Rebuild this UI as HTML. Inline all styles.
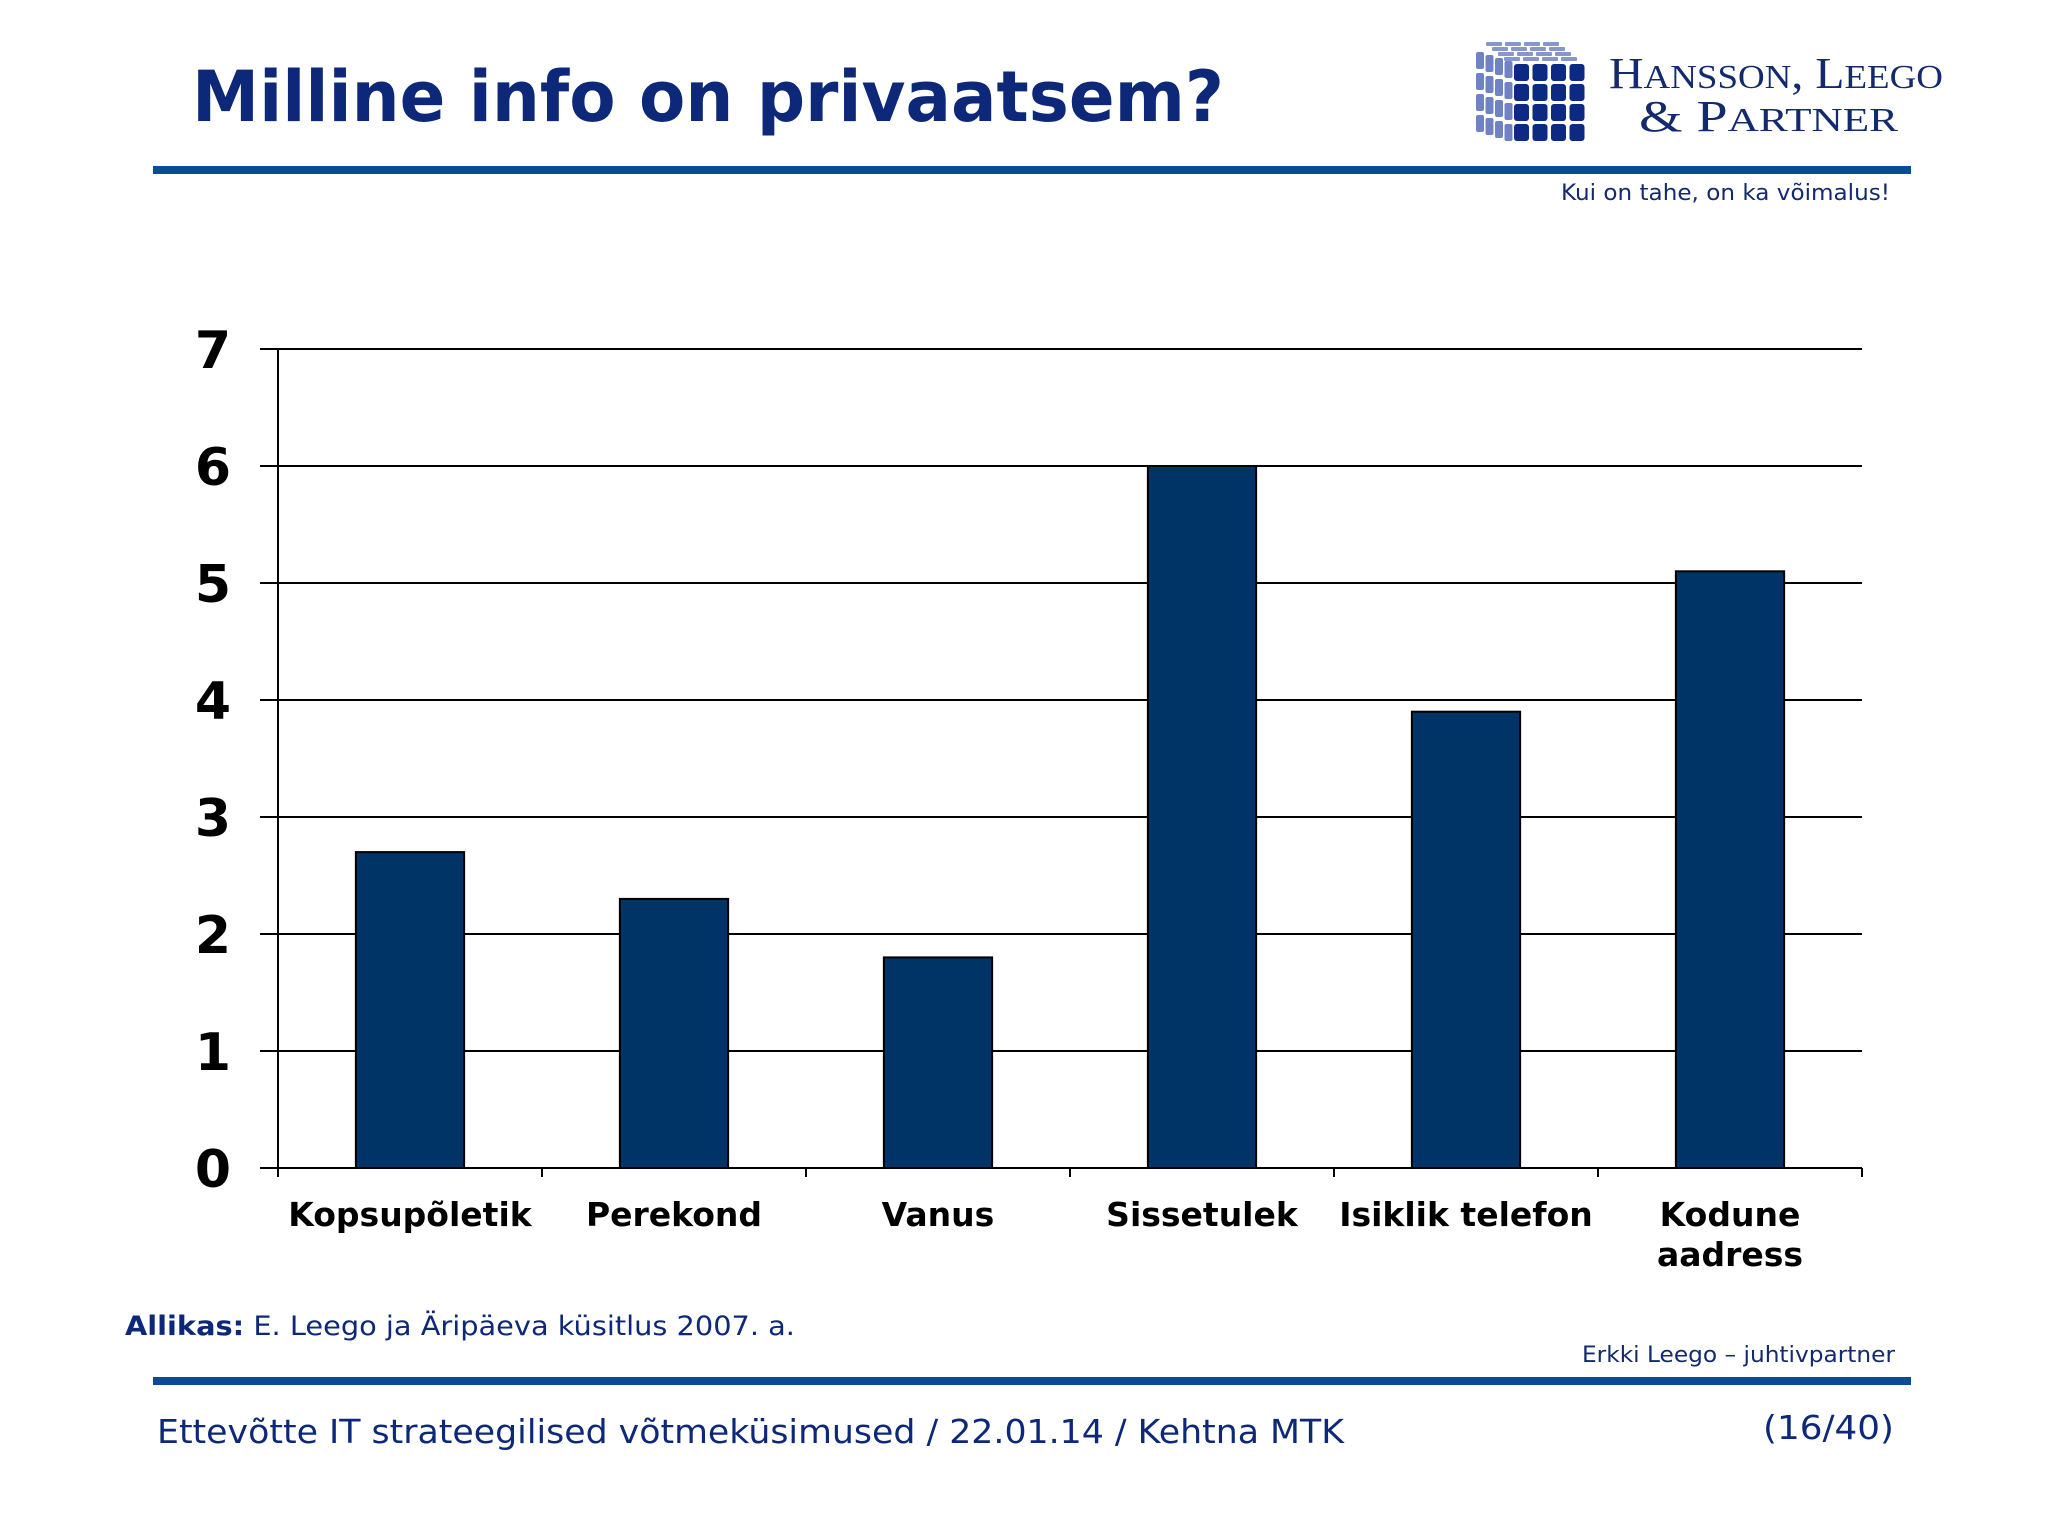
<!DOCTYPE html>
<html><head><meta charset="utf-8"><style>
html,body{margin:0;padding:0;background:#fff;}
svg{display:block;}
</style></head><body>
<svg id="chart" width="2048" height="1536" viewBox="0 0 2048 1536" xmlns="http://www.w3.org/2000/svg">
<text x="192" y="121" font-family="'DejaVu Sans',sans-serif" font-weight="bold" font-size="70" fill="#0d2878" textLength="1032" lengthAdjust="spacingAndGlyphs">Milline info on privaatsem?</text>
<g>
<g id="cube"></g>
<text x="1609" y="88" font-family="'Liberation Serif',serif" font-size="44" fill="#132a6e" textLength="334" lengthAdjust="spacingAndGlyphs">H<tspan font-size="34">ANSSON</tspan>, L<tspan font-size="34">EEGO</tspan></text>
<text x="1639" y="131" font-family="'Liberation Serif',serif" font-size="44" fill="#132a6e" textLength="259" lengthAdjust="spacingAndGlyphs">&amp; P<tspan font-size="34">ARTNER</tspan></text>
</g>
<rect x="153" y="166" width="1758" height="8" fill="#0b4a94"/>
<text x="1561" y="200" font-family="'DejaVu Sans',sans-serif" font-size="22" fill="#132a6e" textLength="329" lengthAdjust="spacingAndGlyphs">Kui on tahe, on ka võimalus!</text>
<g id="plot"></g>
<text x="125" y="1335" font-family="'DejaVu Sans',sans-serif" font-size="27" fill="#0d2878" textLength="670" lengthAdjust="spacingAndGlyphs"><tspan font-weight="bold">Allikas:</tspan> E. Leego ja Äripäeva küsitlus 2007. a.</text>
<text x="1582" y="1362" font-family="'DejaVu Sans',sans-serif" font-size="22" fill="#132a6e" textLength="313" lengthAdjust="spacingAndGlyphs">Erkki Leego – juhtivpartner</text>
<rect x="153" y="1377" width="1758" height="8" fill="#0b4a94"/>
<text x="157" y="1443" font-family="'DejaVu Sans',sans-serif" font-size="33" fill="#0d2878" textLength="1187" lengthAdjust="spacingAndGlyphs">Ettevõtte IT strateegilised võtmeküsimused / 22.01.14 / Kehtna MTK</text>
<text x="1763" y="1439" font-family="'DejaVu Sans',sans-serif" font-size="33" fill="#0d2878" textLength="131" lengthAdjust="spacingAndGlyphs">(16/40)</text>
</svg>
<script>
const categories = [["Kopsupõletik"],["Perekond"],["Vanus"],["Sissetulek"],["Isiklik telefon"],["Kodune","aadress"]];
const values = [2.7, 2.3, 1.8, 6.0, 3.9, 5.1];
const yTicks = [0,1,2,3,4,5,6,7];

const NS = "http://www.w3.org/2000/svg";
const plot = document.getElementById('plot');
const X0 = 278, X1 = 1862, Y0 = 1168, Y7 = 349, YMAX = 7;
const y = v => Y0 - (v / YMAX) * (Y0 - Y7);
const bw = (X1 - X0) / categories.length;
const x = i => X0 + bw * i;
function mk(tag, attrs, parent) {
  const e = document.createElementNS(NS, tag);
  for (const k in attrs) e.setAttribute(k, attrs[k]);
  (parent || plot).appendChild(e);
  return e;
}
yTicks.forEach(t => {
  const g = mk('line', {x1: 260, x2: X1, y1: y(t), y2: y(t), stroke: '#000', 'stroke-width': 2});
  
  
  const lb = mk('text', {x: 213, y: y(t) + 19, 'text-anchor': 'middle', 'font-family': "'DejaVu Sans',sans-serif", 'font-weight': 'bold', 'font-size': 52, fill: '#000'});
  lb.textContent = t;
  
  
});
const ax = mk('line', {x1: X0, x2: X0, y1: Y7, y2: Y0 + 8, stroke: '#000', 'stroke-width': 2});


for (let i = 0; i <= categories.length; i++) {
  const tk = mk('line', {x1: x(i), x2: x(i), y1: Y0, y2: Y0 + 9, stroke: '#000', 'stroke-width': 2});
  
  
}
values.forEach((v, i) => {
  const w = bw * 0.41;
  const r = mk('rect', {x: x(i) + (bw - w) / 2, y: y(v), width: w, height: Y0 - y(v), fill: '#003366', stroke: '#000', 'stroke-width': 2});
  
  
  const t = mk('text', {x: x(i) + bw / 2, y: 1226, 'text-anchor': 'middle', 'font-family': "'DejaVu Sans',sans-serif", 'font-weight': 'bold', 'font-size': 33, fill: '#000'});
  categories[i].forEach((ln, j) => {
    const s = mk('tspan', {x: x(i) + bw / 2, dy: j ? 40 : 0}, t);
    s.textContent = ln;
  });
  
  
});
// logo cube
const cube = document.getElementById('cube');
for (let r = 0; r < 4; r++) for (let c = 0; c < 4; c++) {
  const f = mk('rect', {x: 1514 + c * 18.5, y: 64 + r * 20, width: 15, height: 17, rx: 3, fill: '#0d2a82'}, cube);
  
  
  const s = mk('rect', {x: 1476 + c * 9.5, y: 52 + r * 21 + c * 3, width: 8, height: 17, rx: 2, fill: '#6f83c4'}, cube);
  
  
  const tp = mk('rect', {x: 1486 + c * 19 + r * 6, y: 42 + r * 5, width: 16, height: 4, rx: 1, fill: '#8797cc'}, cube);
  
  
}
</script>
</body></html>
